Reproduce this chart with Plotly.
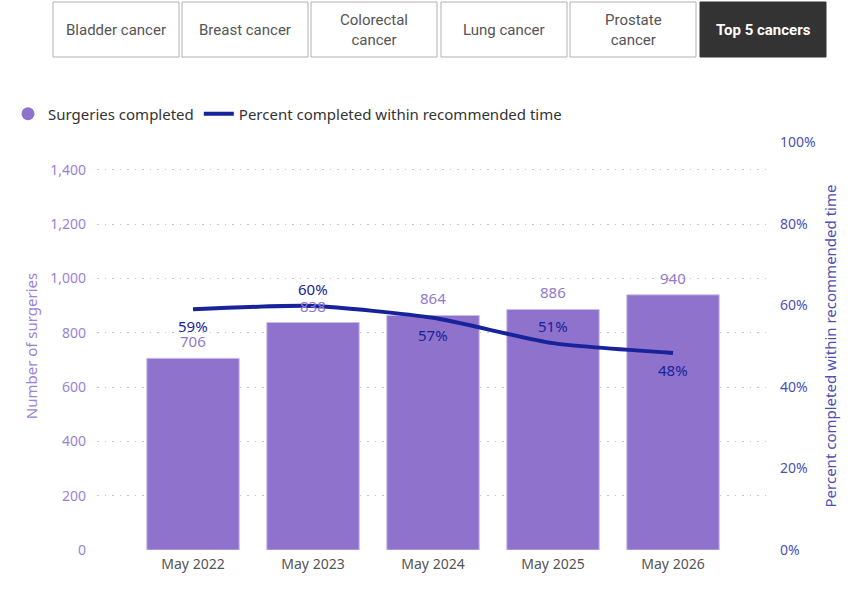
import plotly.graph_objects as go

categories = ["May 2022", "May 2023", "May 2024", "May 2025", "May 2026"]
surgeries = [706, 838, 864, 886, 940]
pct_within = [0.590, 0.598, 0.569, 0.507, 0.483]
pct_label_side = [-1, 1, -1, 1, -1]  # -1 below the line, 1 above
buttons = ["Bladder cancer", "Breast cancer", "Colorectal<br>cancer", "Lung cancer", "Prostate<br>cancer", "Top 5 cancers"]
left_ticks = [0, 200, 400, 600, 800, 1000, 1200, 1400]
right_ticks = [0, 0.2, 0.4, 0.6, 0.8, 1.0]

BAR = "#8E72CC"
LINE = "#18229A"
FONT = "Segoe UI, Noto Sans, sans-serif"
W, H = 862, 591

def px(x):
    return x / W

def py(y):
    return 1 - y / H

fig = go.Figure()
fig.add_trace(go.Bar(
    x=categories, y=surgeries, name="Surgeries completed",
    marker=dict(color=BAR, line=dict(color="#C9BCEB", width=1)),
    showlegend=False, hoverinfo="x+y",
))
fig.add_trace(go.Scatter(
    x=[None], y=[None], mode="markers", name="Surgeries completed",
    marker=dict(symbol="circle", size=13, color=BAR),
))
fig.add_trace(go.Scatter(
    x=categories, y=pct_within, yaxis="y2", name="Percent completed within recommended time",
    mode="lines", line=dict(color=LINE, width=4, shape="spline", smoothing=0.6),
))

# data labels
for c, v in zip(categories, surgeries):
    fig.add_annotation(x=c, y=v, xref="x", yref="y", text=f"{v:,}", showarrow=False,
                       yshift=17, yanchor="middle",
                       font=dict(color="#9278D0", size=15, family=FONT))
for c, v, s in zip(categories, pct_within, pct_label_side):
    fig.add_annotation(x=c, y=v, xref="x", yref="y2", text=f"{round(v*100):.0f}%", showarrow=False,
                       yshift=17 * s, yanchor="middle",
                       font=dict(color=LINE, size=15, family=FONT))

# Buttons
btn_x = [(53, 179), (182, 308), (311, 437), (441, 567), (570, 696), (700, 826)]
for i, (label, (x0, x1)) in enumerate(zip(buttons, btn_x)):
    active = i == len(buttons) - 1
    fig.add_shape(type="rect", xref="paper", yref="paper",
                  x0=px(x0), x1=px(x1), y0=py(57), y1=py(2),
                  fillcolor="#333333" if active else "white",
                  line=dict(color="#333333" if active else "#B0B0B0", width=1))
    fig.add_annotation(xref="paper", yref="paper", x=px((x0 + x1) / 2), y=py(30),
                       text=f"<b>{label}</b>" if active else label, showarrow=False,
                       font=dict(family="Liberation Sans Narrow, Roboto, sans-serif", size=15,
                                 color="white" if active else "#555555"),
                       xanchor="center", yanchor="middle")

fig.update_layout(
    width=W, height=H,
    margin=dict(l=0, r=0, t=0, b=0, autoexpand=False),
    paper_bgcolor="white", plot_bgcolor="white",
    font=dict(family=FONT, size=14, color="#555555"),
    bargap=0.23,
    legend=dict(orientation="h", x=px(8), y=py(114), xanchor="left", yanchor="middle",
                font=dict(size=15, color="#333333", family=FONT), itemwidth=30,
                traceorder="normal"),
    xaxis=dict(domain=[px(97), px(769)], range=[-0.8, 4.8], showgrid=False, showline=False,
               ticks="", automargin=False, ticklabelstandoff=4,
               tickfont=dict(size=14, color="#555555")),
    yaxis=dict(domain=[py(550), py(142)], range=[0, 1503], tickvals=left_ticks,
               tickformat=",", showgrid=True, gridcolor="#C4C4C4", griddash="1.5px,6px", gridwidth=1,
               zeroline=False, automargin=False, ticklabelstandoff=10,
               tickfont=dict(size=14, color="#9B82D6"),
               title=dict(text="Number of surgeries", font=dict(size=15, color="#9B82D6"), standoff=8)),
    yaxis2=dict(overlaying="y", side="right", range=[0, 1], tickvals=right_ticks,
                tickformat=".0%", showgrid=False, zeroline=False, automargin=False,
                ticklabelstandoff=10,
                tickfont=dict(size=14, color="#4B50B8"),
                title=dict(text="Percent completed within recommended time",
                           font=dict(size=15, color="#4B50B8"), standoff=10)),
)

fig.write_html("out.html", config={"displayModeBar": False},
               post_script="document.body.style.margin='0';")
